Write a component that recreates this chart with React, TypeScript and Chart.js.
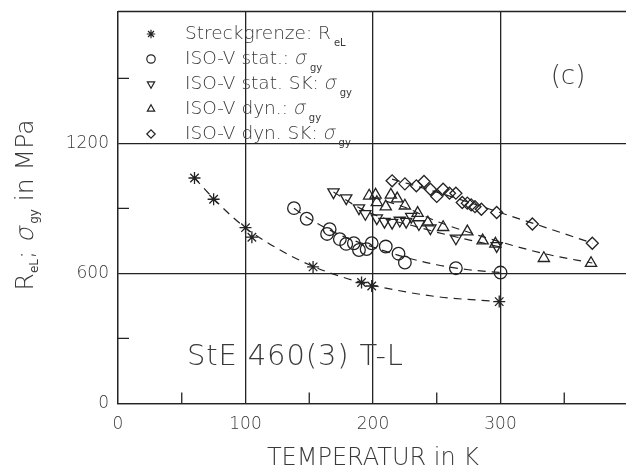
import React, { useEffect, useRef } from 'react';
import { Chart, registerables } from 'chart.js';
import { drawPoint } from 'chart.js/helpers';

Chart.register(...registerables);

// ---------- axes ----------
const xTicks = [0, 100, 200, 300];
const yTicks = [0, 600, 1200];
const xMinorTicks = [50, 150, 250, 350];
const yMinorTicks = [300, 900, 1500];
const xMin = 0;
const xMax = 400;
const yMin = 0;
const yMax = 1808;

// ---------- measured data ----------
// Streckgrenze R_eL (asterisks)
const reT = [60, 75, 100, 105, 153, 191, 199, 299];
const reV = [1040, 942, 811, 767, 630, 558, 542, 470];
// ISO-V stat. (circles)
const statT = [138, 148, 164, 166, 174, 179, 185, 189, 195, 199, 210, 220, 225, 265, 300];
const statV = [901, 852, 782, 804, 758, 736, 739, 708, 712, 739, 724, 691, 650, 624, 604];
// ISO-V stat. SK (down triangles)
const statSkT = [169, 179, 189, 194, 203, 209, 215, 221, 226, 230, 236, 245, 265, 297];
const statSkV = [975, 947, 901, 875, 855, 839, 834, 844, 839, 862, 828, 809, 762, 727];
// ISO-V dyn. (up triangles)
const dynT = [197, 202, 203, 210, 214, 219, 225, 235, 243, 255, 274, 286, 296, 334, 371];
const dynV = [958, 962, 928, 908, 962, 945, 912, 878, 834, 813, 793, 751, 736, 670, 647];
// ISO-V dyn. SK (diamonds)
const dynSkT = [215, 225, 234, 240, 245, 250, 255, 260, 265, 270, 274, 277, 280, 285, 297, 325, 372];
const dynSkV = [1027, 1013, 1004, 1024, 988, 955, 988, 970, 970, 927, 924, 916, 908, 896, 881, 828, 739];

// ---------- dashed fit curves ----------
const fitReT = [60, 80, 100, 125, 150, 175, 200, 250, 300];
const fitReV = [1040, 915, 810, 715, 640, 585, 545, 493, 470];
const fitStatT = [138, 150, 175, 200, 225, 250, 275, 300];
const fitStatV = [900, 852, 775, 722, 675, 640, 617, 604];
const fitStatSkT = [169, 190, 210, 230, 250, 275, 300];
const fitStatSkV = [975, 900, 852, 822, 790, 755, 722];
const fitDynT = [200, 225, 250, 275, 300, 335, 372];
const fitDynV = [950, 905, 840, 790, 745, 690, 648];
const fitDynSkT = [215, 250, 275, 300, 325, 372];
const fitDynSkV = [1035, 975, 928, 880, 832, 740];

// ---------- texts ----------
const legendMain = ['Streckgrenze: R', 'ISO-V stat.: ', 'ISO-V stat. SK: ', 'ISO-V dyn.: ', 'ISO-V dyn. SK: '];
const legendSymbol = ['', 'σ', 'σ', 'σ', 'σ'];
const legendSub = ['eL', 'gy', 'gy', 'gy', 'gy'];
const xTitle = 'TEMPERATUR in K';
const panelLabel = '(c)';
const materialLabel = 'StE 460(3) T-L';

const INK = '#232323';
const TEXT = '#3a3a3a';
const FONT = '"DejaVu Sans", sans-serif';

const toPts = (xs: number[], ys: number[]) => xs.map((x, i) => ({ x, y: ys[i] }));

const markerStyles = [
  { pointStyle: 'star', radius: 6, rotation: 0 },
  { pointStyle: 'circle', radius: 6.3, rotation: 0 },
  { pointStyle: 'triangle', radius: 6.5, rotation: 180 },
  { pointStyle: 'triangle', radius: 6.5, rotation: 0 },
  { pointStyle: 'rectRot', radius: 6, rotation: 0 },
];

type Part = { t: string; size: number; italic?: boolean; dy?: number; dx?: number; weight?: string };

function setFont(ctx: CanvasRenderingContext2D, p: Part) {
  ctx.font = `${p.weight || '200'} ${p.size}px ${FONT}`;
}

function richWidth(ctx: CanvasRenderingContext2D, parts: Part[]) {
  let w = 0;
  for (const p of parts) {
    setFont(ctx, p);
    w += ctx.measureText(p.t).width + (p.dx || 0);
  }
  return w;
}

function drawRich(ctx: CanvasRenderingContext2D, parts: Part[], x: number, y: number) {
  let cx = x;
  for (const p of parts) {
    setFont(ctx, p);
    cx += p.dx || 0;
    if (p.italic) {
      ctx.save();
      ctx.translate(cx, y + (p.dy || 0));
      ctx.transform(1, 0, -0.22, 1, 0, 0);
      ctx.fillText(p.t, 0, 0);
      ctx.restore();
    } else {
      ctx.fillText(p.t, cx, y + (p.dy || 0));
    }
    cx += ctx.measureText(p.t).width;
  }
}

const decorPlugin = {
  id: 'decor',
  afterDraw(chart: any) {
    const ctx: CanvasRenderingContext2D = chart.ctx;
    const { left, right, top, bottom } = chart.chartArea;
    const xs = chart.scales.x;
    const ys = chart.scales.y;
    ctx.save();
    ctx.strokeStyle = INK;
    ctx.lineWidth = 1.3;
    ctx.beginPath();
    ctx.moveTo(left, top);
    ctx.lineTo(right, top);
    for (const v of xMinorTicks) {
      const px = xs.getPixelForValue(v);
      ctx.moveTo(px, bottom);
      ctx.lineTo(px, bottom - 11);
    }
    for (const v of yMinorTicks) {
      const py = ys.getPixelForValue(v);
      ctx.moveTo(left, py);
      ctx.lineTo(left + 11, py);
    }
    ctx.stroke();

    // legend
    ctx.textBaseline = 'middle';
    ctx.textAlign = 'left';
    for (let i = 0; i < legendMain.length; i++) {
      const rowY = 34 + i * 25;
      const st = markerStyles[i];
      ctx.strokeStyle = INK;
      ctx.fillStyle = 'rgba(0,0,0,0)';
      ctx.lineWidth = 1.2;
      drawPoint(ctx, { pointStyle: st.pointStyle, radius: 4.2, rotation: st.rotation, borderWidth: 1.2 } as any, 151, rowY);
      ctx.fillStyle = TEXT;
      const parts: Part[] = [{ t: legendMain[i], size: 18.5 }];
      if (legendSymbol[i]) parts.push({ t: legendSymbol[i], size: 19, italic: true });
      parts.push({ t: legendSub[i], size: 10, dy: 9, dx: 3, weight: 'normal' });
      drawRich(ctx, parts, 185, rowY);
    }

    // panel label and material label
    ctx.textAlign = 'center';
    ctx.font = `200 26px ${FONT}`;
    ctx.fillText(panelLabel, 568, 77);
    ctx.textAlign = 'left';
    ctx.font = `200 29px ${FONT}`;
    (ctx as any).letterSpacing = '0px';
    const baseW = ctx.measureText(materialLabel).width;
    const targetW = 216;
    const spacing = Math.max(0, (targetW - baseW) / (materialLabel.length - 1));
    (ctx as any).letterSpacing = `${spacing.toFixed(2)}px`;
    ctx.fillText(materialLabel, 187, 357);
    (ctx as any).letterSpacing = '0px';

    // y axis title (rotated, with subscripts)
    const yParts: Part[] = [
      { t: 'R', size: 25 },
      { t: 'eL', size: 12, dy: 5, weight: 'normal' },
      { t: '; ', size: 25 },
      { t: 'σ', size: 25, italic: true },
      { t: 'gy', size: 12, dy: 5, dx: 3, weight: 'normal' },
      { t: ' in MPa', size: 25 },
    ];
    ctx.save();
    ctx.translate(33, 205);
    ctx.rotate(-Math.PI / 2);
    ctx.textBaseline = 'alphabetic';
    ctx.textAlign = 'left';
    const w = richWidth(ctx, yParts);
    drawRich(ctx, yParts, -w / 2, 0);
    ctx.restore();
    ctx.restore();
  },
};

function scatterSet(label: string, xs: number[], ys: number[], idx: number) {
  const st = markerStyles[idx];
  return {
    label,
    data: toPts(xs, ys),
    showLine: false,
    pointStyle: st.pointStyle,
    pointRadius: st.radius,
    rotation: st.rotation,
    pointBorderColor: INK,
    pointBackgroundColor: 'rgba(0,0,0,0)',
    pointBorderWidth: 1.3,
    order: 1,
  };
}

function fitSet(label: string, xs: number[], ys: number[]) {
  return {
    label,
    data: toPts(xs, ys),
    showLine: true,
    pointRadius: 0,
    borderColor: INK,
    borderWidth: 1.2,
    borderDash: [8, 6],
    cubicInterpolationMode: 'monotone',
    fill: false,
    order: 2,
  };
}

export default function App() {
  const ref = useRef<HTMLCanvasElement | null>(null);
  useEffect(() => {
    if (!ref.current) return;
    const chart = new Chart(ref.current, {
      type: 'scatter',
      data: {
        datasets: [
          fitSet('fit R_eL', fitReT, fitReV),
          fitSet('fit stat', fitStatT, fitStatV),
          fitSet('fit stat SK', fitStatSkT, fitStatSkV),
          fitSet('fit dyn', fitDynT, fitDynV),
          fitSet('fit dyn SK', fitDynSkT, fitDynSkV),
          scatterSet('Streckgrenze', reT, reV, 0),
          scatterSet('ISO-V stat.', statT, statV, 1),
          scatterSet('ISO-V stat. SK', statSkT, statSkV, 2),
          scatterSet('ISO-V dyn.', dynT, dynV, 3),
          scatterSet('ISO-V dyn. SK', dynSkT, dynSkV, 4),
        ] as any,
      },
      options: {
        animation: false,
        responsive: false,
        devicePixelRatio: 1,
        layout: { padding: { top: 11.5, right: 12, left: 0, bottom: 0 } },
        plugins: { legend: { display: false }, tooltip: { enabled: false }, title: { display: false } },
        scales: {
          x: {
            type: 'linear',
            min: xMin,
            max: xMax,
            afterBuildTicks: (s: any) => { s.ticks = xTicks.map((v) => ({ value: v })); },
            afterFit: (s: any) => { s.height = 66.5; s.paddingLeft = 0; s.paddingRight = 0; },
            grid: { color: INK, lineWidth: 1.3, drawTicks: false },
            border: { display: true, color: INK, width: 1.3 },
            ticks: {
              color: TEXT, padding: 11, maxRotation: 0,
              font: { family: FONT, size: 17, weight: '200' as any },
              callback: (v: any) => String(v),
            },
            title: { display: true, text: xTitle, color: TEXT, padding: 0, font: { family: FONT, size: 24, weight: '200' as any, lineHeight: 0.9 } },
          },
          y: {
            type: 'linear',
            min: yMin,
            max: yMax,
            afterBuildTicks: (s: any) => { s.ticks = yTicks.map((v) => ({ value: v })); },
            afterFit: (s: any) => { s.width = 118; s.paddingTop = 0; s.paddingBottom = 0; },
            grid: { color: INK, lineWidth: 1.3, drawTicks: false },
            border: { display: true, color: INK, width: 1.3 },
            ticks: {
              color: TEXT, padding: 9,
              font: { family: FONT, size: 17, weight: '200' as any },
              callback: (v: any) => String(v),
            },
          },
        },
      } as any,
      plugins: [decorPlugin],
    });
    return () => chart.destroy();
  }, []);
  return (
    <div style={{ position: 'absolute', left: 0, top: 0, width: 626, height: 470, overflow: 'hidden', background: '#fff' }}>
      <canvas ref={ref} width={640} height={470} style={{ display: 'block' }} />
    </div>
  );
}
